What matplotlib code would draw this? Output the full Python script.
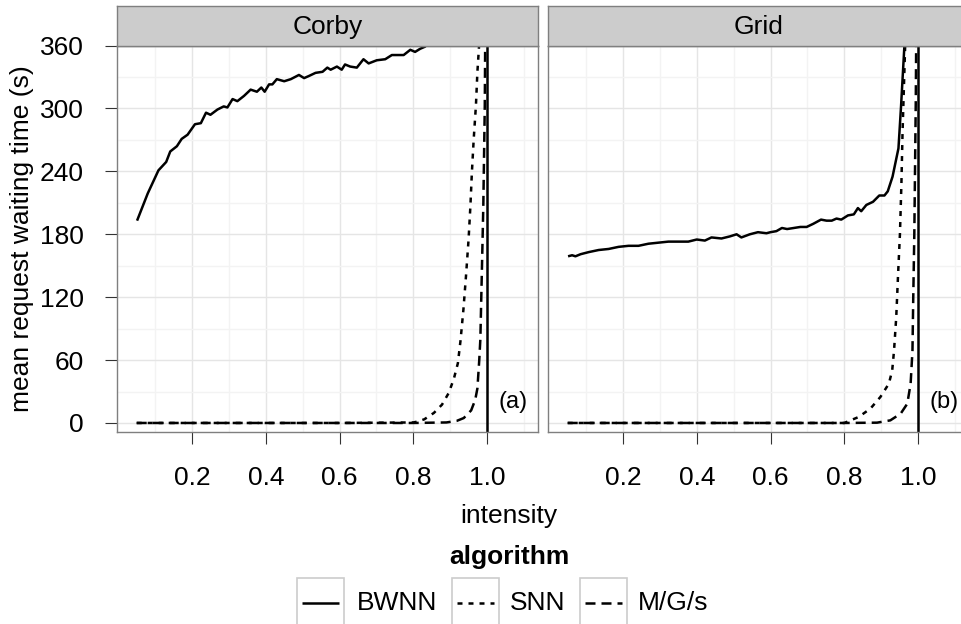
import matplotlib
matplotlib.use('Agg')
import matplotlib.pyplot as plt
from matplotlib.patches import Rectangle
from matplotlib.lines import Line2D
from matplotlib.ticker import FixedLocator

plt.rcParams['font.family'] = ['Liberation Sans', 'DejaVu Sans']

# --- data ------------------------------------------------------------------
panels = ['Corby', 'Grid']
panel_tags = ['(a)', '(b)']
algorithms = ['BWNN', 'SNN', 'M/G/s']

corby_bwnn_x = [0.051, 0.080, 0.109, 0.130, 0.141, 0.159, 0.172, 0.188, 0.208, 0.224,
                0.238, 0.250, 0.269, 0.286, 0.296, 0.310, 0.323, 0.341, 0.359, 0.376,
                0.388, 0.397, 0.409, 0.418, 0.430, 0.450, 0.468, 0.490, 0.504, 0.517,
                0.535, 0.554, 0.567, 0.576, 0.593, 0.606, 0.615, 0.629, 0.647, 0.665,
                0.679, 0.701, 0.724, 0.742, 0.774, 0.792, 0.805, 0.819, 0.832, 0.845]
corby_bwnn_y = [193, 219, 241, 249, 259, 264, 271, 275, 285, 286,
                296, 294, 299, 302, 301, 309, 307, 312, 318, 316,
                320, 316, 323, 323, 328, 326, 328, 332, 329, 331,
                334, 335, 339, 337, 340, 337, 342, 340, 339, 347,
                343, 346, 347, 351, 351, 356, 354, 357, 359, 364]

corby_snn_x = [0.05, 0.2, 0.4, 0.6, 0.8, 0.81, 0.83, 0.856, 0.878, 0.896, 0.910,
               0.921, 0.928, 0.936, 0.943, 0.950, 0.955, 0.959, 0.964, 0.970,
               0.974, 0.978, 0.981]
corby_snn_y = [0, 0, 0, 0, 0.5, 1.2, 3.5, 9.6, 17.5, 28.5, 42,
               57, 78, 108, 140, 175, 207, 239, 271, 303,
               335, 357, 380]

corby_mgs_x = [0.05, 0.2, 0.4, 0.6, 0.8, 0.89, 0.918, 0.937, 0.957, 0.968, 0.974,
               0.979, 0.982, 0.984, 0.987, 0.990, 0.992, 0.994, 0.995, 0.996]
corby_mgs_y = [0, 0, 0, 0, 0, 0.5, 2, 4.7, 12, 22, 33,
               60, 80, 112, 159, 207, 255, 303, 357, 380]

grid_bwnn_x = [0.051, 0.062, 0.071, 0.085, 0.107, 0.134, 0.161, 0.188, 0.215, 0.242,
               0.269, 0.296, 0.323, 0.350, 0.377, 0.400, 0.422, 0.440, 0.467, 0.490,
               0.508, 0.521, 0.544, 0.566, 0.589, 0.600, 0.616, 0.631, 0.645, 0.663,
               0.681, 0.698, 0.716, 0.737, 0.752, 0.766, 0.779, 0.792, 0.810, 0.826,
               0.837, 0.846, 0.860, 0.878, 0.895, 0.909, 0.918, 0.931, 0.947, 0.954,
               0.960, 0.963, 0.966]
grid_bwnn_y = [159, 160, 159, 161, 163, 165, 166, 168, 169, 169,
               171, 172, 173, 173, 173, 175, 174, 177, 176, 178,
               180, 177, 180, 182, 181, 182, 183, 186, 185, 186,
               187, 187, 190, 194, 193, 193, 195, 194, 198, 199,
               205, 202, 208, 211, 217, 217, 221, 235, 262, 302,
               340, 359, 380]

grid_snn_x = [0.05, 0.2, 0.4, 0.6, 0.8, 0.839, 0.871, 0.898, 0.921, 0.930, 0.935,
              0.941, 0.946, 0.951, 0.955, 0.958, 0.962, 0.965, 0.967]
grid_snn_y = [0, 0, 0, 0, 0, 5.7, 13.7, 24.8, 37.5, 50, 69,
              101, 142, 180, 228, 276, 323, 358, 380]

grid_mgs_x = [0.05, 0.2, 0.4, 0.6, 0.8, 0.889, 0.925, 0.953, 0.971, 0.980, 0.985,
              0.987, 0.990, 0.992, 0.994, 0.995, 0.996]
grid_mgs_y = [0, 0, 0, 0, 0, 0.3, 2.5, 8.9, 18.4, 37.5, 69,
              117, 180, 244, 308, 358, 380]

capacity_x = 1.0

x_major = [0.2, 0.4, 0.6, 0.8, 1.0]
x_minor = [0.1, 0.3, 0.5, 0.7, 0.9, 1.1]
y_major = [0, 60, 120, 180, 240, 300, 360]
y_minor = [30, 90, 150, 210, 270, 330]

series = {
    'Corby': [(corby_bwnn_x, corby_bwnn_y), (corby_snn_x, corby_snn_y), (corby_mgs_x, corby_mgs_y)],
    'Grid': [(grid_bwnn_x, grid_bwnn_y), (grid_snn_x, grid_snn_y), (grid_mgs_x, grid_mgs_y)],
}

# line styles (dashes in multiples of linewidth)
LW = 1.8
styles = [dict(linestyle='-'),
          dict(dashes=(2.0, 2.4)),
          dict(dashes=(4.0, 2.4))]

# --- layout (pixel geometry of the reference) ------------------------------
W, H = 961, 624
BORDER = '#7F7F7F'
FS = 19

fig = plt.figure(figsize=(W / 100, H / 100), dpi=100)


def px_rect(x0, y0, x1, y1):
    return [x0 / W, 1 - y1 / H, (x1 - x0) / W, (y1 - y0) / H]


panel_left = [117.3, 548.3]
panel_w = 420.4
panel_top, panel_bot, strip_top = 45.6, 432.3, 6.2

for i, name in enumerate(panels):
    x0 = panel_left[i]
    ax = fig.add_axes(px_rect(x0, panel_top, x0 + panel_w, panel_bot))
    ax.set_xlim(-0.0026, 1.1375)
    ax.set_ylim(-8.9, 360)
    ax.set_axisbelow(True)

    ax.xaxis.set_major_locator(FixedLocator(x_major))
    ax.xaxis.set_minor_locator(FixedLocator(x_minor))
    ax.yaxis.set_major_locator(FixedLocator(y_major))
    ax.yaxis.set_minor_locator(FixedLocator(y_minor))
    ax.set_xticklabels([f'{v:.1f}' for v in x_major])
    ax.grid(which='major', color='#E5E5E5', lw=1.0)
    ax.grid(which='minor', color='#F3F3F3', lw=1.0)

    ax.tick_params(which='major', direction='out', length=8.6, width=0.8,
                   color='#333333', labelsize=FS, pad=15.5, labelcolor='black')
    ax.tick_params(which='minor', length=0)
    if i == 1:
        ax.tick_params(axis='y', which='both', left=False, labelleft=False)

    for sp in ax.spines.values():
        sp.set_color(BORDER)
        sp.set_linewidth(1.0)

    for (xs, ys), st in zip(series[name], styles):
        ax.plot(xs, ys, color='black', lw=LW, solid_capstyle='butt',
                dash_capstyle='butt', **st)
    ax.axvline(capacity_x, color='black', lw=LW)
    ax.text(1.07, 20, panel_tags[i], ha='center', va='center', fontsize=17)

    # facet strip
    sax = fig.add_axes(px_rect(x0, strip_top, x0 + panel_w, panel_top))
    sax.set_xticks([])
    sax.set_yticks([])
    sax.set_facecolor('#CCCCCC')
    for sp in sax.spines.values():
        sp.set_color(BORDER)
        sp.set_linewidth(1.0)
    sax.text(0.5, 0.47, name, ha='center', va='center', fontsize=FS,
             transform=sax.transAxes)

# axis titles
fig.text(22 / W, 1 - 239 / H, 'mean request waiting time (s)', rotation=90,
         ha='center', va='center', fontsize=FS)
fig.text(509 / W, 1 - 516 / H, 'intensity', ha='center', va='center', fontsize=FS)

# --- legend -----------------------------------------------------------------
lax = fig.add_axes([0, 0, 1, 1])
lax.set_xlim(0, W)
lax.set_ylim(H, 0)
lax.axis('off')
lax.text(509, 557, 'algorithm', ha='center', va='center', fontsize=FS,
         fontweight='bold')

key_x = [297, 451.5, 579.5]
label_x = [357, 510, 638]
key_top, key_h, key_w = 578, 48, 47
for kx, lx, lab, st in zip(key_x, label_x, algorithms, styles):
    lax.add_patch(Rectangle((kx, key_top), key_w, key_h, facecolor='white',
                            edgecolor='#CCCCCC', lw=1.2))
    lax.add_line(Line2D([kx + 5, kx + key_w - 5], [603, 603], color='black',
                        lw=LW, solid_capstyle='butt', dash_capstyle='butt', **st))
    lax.text(lx, 603, lab, ha='left', va='center', fontsize=FS)

fig.savefig('out.png', dpi=100)
